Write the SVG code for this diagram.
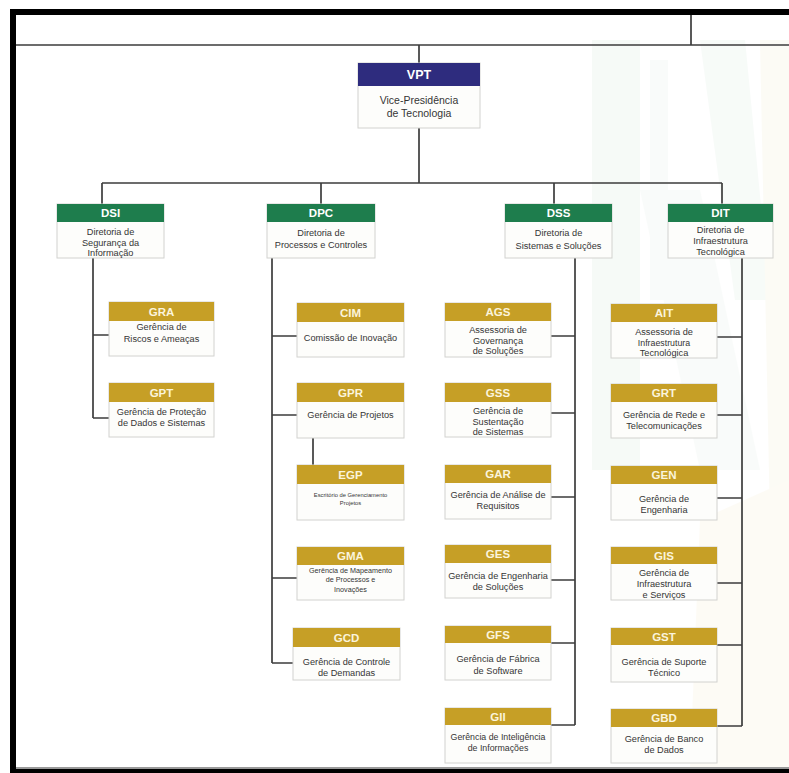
<svg xmlns="http://www.w3.org/2000/svg" width="789" height="773" viewBox="0 0 789 773">
  <style>
    .box { fill: #fdfdfb; stroke: #d2d2cf; stroke-width: 1; }
    .hg { fill: #1e7d4d; }
    .hy { fill: #c69f26; }
    .hn { fill: #2e2c7e; }
    .h { font-family: "Liberation Sans", Arial, sans-serif; font-weight: bold; font-size: 11.5px; fill: #ffffff; text-anchor: middle; }
    .hy-t { fill: #fbf4dc; }
    .t { font-family: "Liberation Sans", Arial, sans-serif; font-size: 9.2px; fill: #353535; text-anchor: middle; }
    .s { font-size: 7.2px; }
    .xs { font-size: 5.8px; }
    .m { font-size: 8.8px; }
    .ln { stroke: #3d3d3d; stroke-width: 1.7; fill: none; }
    .frame { fill: #000000; }
  </style>

  <!-- page background -->
  <rect x="0" y="0" width="789" height="773" fill="#ffffff"/>

  <!-- faint logo watermark -->
  <g id="watermark" opacity="0.3">
    <polygon points="592,40 640,40 640,470 592,470" fill="#e3f0e7"/>
    <polygon points="650,60 668,60 668,300 650,300" fill="#ecf5ef"/>
    <polygon points="700,40 745,40 770,300 735,300" fill="#e6f2ea"/>
    <polygon points="640,190 700,190 760,470 700,470" fill="#edf5f0"/>
    <polygon points="760,40 789,40 789,520 770,520" fill="#f7f3df"/>
    <polygon points="700,520 789,480 789,769 690,769" fill="#fbf4e1"/>
  </g>

  <!-- page frame -->
  <rect class="frame" x="10" y="9" width="779" height="6"/>
  <rect class="frame" x="10" y="9" width="6" height="764"/>
  <rect x="16" y="767" width="773" height="2" fill="#9a9a9a"/>
  <rect class="frame" x="10" y="769" width="779" height="4"/>

  <!-- connectors -->
  <g id="connectors" class="ln">
    <path d="M16 45 H789 M691 15 V45 M419 45 V63 M419 128 V183"/>
    <path d="M102 183 H722 M102 183 V204 M321 183 V204 M554 183 V204 M722 183 V204"/>
    <!-- DSI branch -->
    <path d="M93 258 V418 M93 335 H109 M93 418 H109"/>
    <!-- DPC branch -->
    <path d="M272 258 V663 M272 336 H297 M272 415 H297 M272 578 H297 M272 663 H293 M313 438 V465"/>
    <!-- DSS branch -->
    <path d="M575 258 V725 M551 336 H575 M551 413 H575 M551 497 H575 M551 580 H575 M551 643 H575 M551 725 H575"/>
    <!-- DIT branch -->
    <path d="M742 258 V726 M717 337 H742 M717 415 H742 M717 498 H742 M717 583 H742 M717 645 H742 M717 726 H742"/>
  </g>

  <!-- VPT -->
  <g id="VPT">
    <rect class="box" x="358" y="63" width="122" height="65"/>
    <rect class="hn" x="358" y="63" width="122" height="23"/>
    <text class="h" x="419" y="79" style="font-size:12.5px">VPT</text>
    <text class="t" x="419" y="104" style="font-size:10.5px">Vice-Presidência</text>
    <text class="t" x="419" y="117" style="font-size:10.5px">de Tecnologia</text>
  </g>

  <!-- Directorates -->
  <g id="DSI">
    <rect class="box" x="57" y="204" width="107" height="54"/>
    <rect class="hg" x="57" y="204" width="107" height="18"/>
    <text class="h" x="110.5" y="217">DSI</text>
    <text class="t" x="110.5" y="235">Diretoria de</text>
    <text class="t" x="110.5" y="245.5">Segurança da</text>
    <text class="t" x="110.5" y="256">Informação</text>
  </g>
  <g id="DPC">
    <rect class="box" x="267" y="204" width="108" height="54"/>
    <rect class="hg" x="267" y="204" width="108" height="18"/>
    <text class="h" x="321" y="217">DPC</text>
    <text class="t" x="321" y="236">Diretoria de</text>
    <text class="t" x="321" y="248">Processos e Controles</text>
  </g>
  <g id="DSS">
    <rect class="box" x="505" y="204" width="107" height="54"/>
    <rect class="hg" x="505" y="204" width="107" height="18"/>
    <text class="h" x="558.5" y="217">DSS</text>
    <text class="t" x="558.5" y="236">Diretoria de</text>
    <text class="t" x="558.5" y="249">Sistemas e Soluções</text>
  </g>
  <g id="DIT">
    <rect class="box" x="668" y="204" width="105" height="54"/>
    <rect class="hg" x="668" y="204" width="105" height="18"/>
    <text class="h" x="720.5" y="217">DIT</text>
    <text class="t" x="720.5" y="233">Diretoria de</text>
    <text class="t" x="720.5" y="244">Infraestrutura</text>
    <text class="t" x="720.5" y="255">Tecnológica</text>
  </g>

  <!-- DSI units -->
  <g id="GRA">
    <rect class="box" x="109" y="302" width="105" height="54"/>
    <rect class="hy" x="109" y="302" width="105" height="19"/>
    <text class="h hy-t" x="161.5" y="315.5">GRA</text>
    <text class="t" x="161.5" y="330">Gerência de</text>
    <text class="t" x="161.5" y="342">Riscos e Ameaças</text>
  </g>
  <g id="GPT">
    <rect class="box" x="109" y="383" width="105" height="54"/>
    <rect class="hy" x="109" y="383" width="105" height="19"/>
    <text class="h hy-t" x="161.5" y="396.5">GPT</text>
    <text class="t" x="161.5" y="414.5">Gerência de Proteção</text>
    <text class="t" x="161.5" y="426">de Dados e Sistemas</text>
  </g>

  <!-- DPC units -->
  <g id="CIM">
    <rect class="box" x="297" y="303" width="107" height="54"/>
    <rect class="hy" x="297" y="303" width="107" height="19"/>
    <text class="h hy-t" x="350.5" y="316.5">CIM</text>
    <text class="t" x="350.5" y="341">Comissão de Inovação</text>
  </g>
  <g id="GPR">
    <rect class="box" x="297" y="383" width="107" height="55"/>
    <rect class="hy" x="297" y="383" width="107" height="19"/>
    <text class="h hy-t" x="350.5" y="396.5">GPR</text>
    <text class="t" x="350.5" y="418">Gerência de Projetos</text>
  </g>
  <g id="EGP">
    <rect class="box" x="297" y="465" width="107" height="55"/>
    <rect class="hy" x="297" y="465" width="107" height="19"/>
    <text class="h hy-t" x="350.5" y="478.5">EGP</text>
    <text class="t xs" x="350.5" y="497">Escritório de Gerenciamento</text>
    <text class="t xs" x="350.5" y="504.5">Projetos</text>
  </g>
  <g id="GMA">
    <rect class="box" x="297" y="547" width="107" height="53"/>
    <rect class="hy" x="297" y="547" width="107" height="18"/>
    <text class="h hy-t" x="350.5" y="560">GMA</text>
    <text class="t s" x="350.5" y="572.5">Gerência de Mapeamento</text>
    <text class="t s" x="350.5" y="582">de Processos e</text>
    <text class="t s" x="350.5" y="591.5">Inovações</text>
  </g>
  <g id="GCD">
    <rect class="box" x="293" y="628" width="107" height="52"/>
    <rect class="hy" x="293" y="628" width="107" height="19"/>
    <text class="h hy-t" x="346.5" y="641.5">GCD</text>
    <text class="t" x="346.5" y="665">Gerência de Controle</text>
    <text class="t" x="346.5" y="676">de Demandas</text>
  </g>

  <!-- DSS units -->
  <g id="AGS">
    <rect class="box" x="445" y="303" width="106" height="54"/>
    <rect class="hy" x="445" y="303" width="106" height="18"/>
    <text class="h hy-t" x="498" y="316">AGS</text>
    <text class="t" x="498" y="333">Assessoria de</text>
    <text class="t" x="498" y="343.5">Governança</text>
    <text class="t" x="498" y="354">de Soluções</text>
  </g>
  <g id="GSS">
    <rect class="box" x="445" y="383" width="106" height="54"/>
    <rect class="hy" x="445" y="383" width="106" height="19"/>
    <text class="h hy-t" x="498" y="396.5">GSS</text>
    <text class="t" x="498" y="414">Gerência de</text>
    <text class="t" x="498" y="424.5">Sustentação</text>
    <text class="t" x="498" y="435">de Sistemas</text>
  </g>
  <g id="GAR">
    <rect class="box" x="445" y="465" width="106" height="54"/>
    <rect class="hy" x="445" y="465" width="106" height="18"/>
    <text class="h hy-t" x="498" y="478">GAR</text>
    <text class="t" x="498" y="498">Gerência de Análise de</text>
    <text class="t" x="498" y="509">Requisitos</text>
  </g>
  <g id="GES">
    <rect class="box" x="445" y="545" width="106" height="53"/>
    <rect class="hy" x="445" y="545" width="106" height="18"/>
    <text class="h hy-t" x="498" y="558">GES</text>
    <text class="t" x="498" y="579">Gerência de Engenharia</text>
    <text class="t" x="498" y="590">de Soluções</text>
  </g>
  <g id="GFS">
    <rect class="box" x="445" y="626" width="106" height="54"/>
    <rect class="hy" x="445" y="626" width="106" height="17"/>
    <text class="h hy-t" x="498" y="638.5">GFS</text>
    <text class="t" x="498" y="662">Gerência de Fábrica</text>
    <text class="t" x="498" y="674">de Software</text>
  </g>
  <g id="GII">
    <rect class="box" x="445" y="708" width="106" height="55"/>
    <rect class="hy" x="445" y="708" width="106" height="17"/>
    <text class="h hy-t" x="498" y="720.5">GII</text>
    <text class="t m" x="498" y="740">Gerência de Inteligência</text>
    <text class="t m" x="498" y="751">de Informações</text>
  </g>

  <!-- DIT units -->
  <g id="AIT">
    <rect class="box" x="611" y="304" width="106" height="54"/>
    <rect class="hy" x="611" y="304" width="106" height="18"/>
    <text class="h hy-t" x="664" y="317">AIT</text>
    <text class="t" x="664" y="335">Assessoria de</text>
    <text class="t m" x="664" y="345.5">Infraestrutura</text>
    <text class="t" x="664" y="356">Tecnológica</text>
  </g>
  <g id="GRT">
    <rect class="box" x="611" y="384" width="106" height="54"/>
    <rect class="hy" x="611" y="384" width="106" height="18"/>
    <text class="h hy-t" x="664" y="397">GRT</text>
    <text class="t" x="664" y="418">Gerência de Rede e</text>
    <text class="t" x="664" y="428.5">Telecomunicações</text>
  </g>
  <g id="GEN">
    <rect class="box" x="611" y="466" width="106" height="54"/>
    <rect class="hy" x="611" y="466" width="106" height="18"/>
    <text class="h hy-t" x="664" y="479">GEN</text>
    <text class="t" x="664" y="502">Gerência de</text>
    <text class="t" x="664" y="513">Engenharia</text>
  </g>
  <g id="GIS">
    <rect class="box" x="611" y="547" width="106" height="53"/>
    <rect class="hy" x="611" y="547" width="106" height="17"/>
    <text class="h hy-t" x="664" y="559.5">GIS</text>
    <text class="t" x="664" y="576">Gerência de</text>
    <text class="t" x="664" y="587">Infraestrutura</text>
    <text class="t" x="664" y="598">e Serviços</text>
  </g>
  <g id="GST">
    <rect class="box" x="611" y="628" width="106" height="54"/>
    <rect class="hy" x="611" y="628" width="106" height="17"/>
    <text class="h hy-t" x="664" y="640.5">GST</text>
    <text class="t" x="664" y="665">Gerência de Suporte</text>
    <text class="t" x="664" y="675.5">Técnico</text>
  </g>
  <g id="GBD">
    <rect class="box" x="611" y="709" width="106" height="54"/>
    <rect class="hy" x="611" y="709" width="106" height="18"/>
    <text class="h hy-t" x="664" y="722">GBD</text>
    <text class="t" x="664" y="742">Gerência de Banco</text>
    <text class="t" x="664" y="753">de Dados</text>
  </g>
</svg>
